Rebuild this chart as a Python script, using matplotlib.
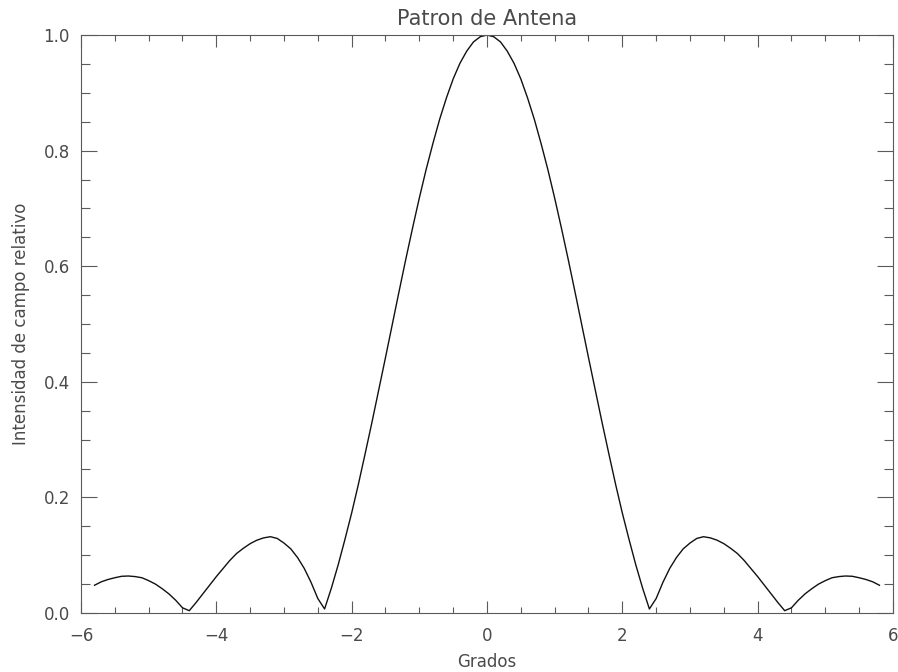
import numpy as np
import matplotlib
matplotlib.use('Agg')
import matplotlib.pyplot as plt
from matplotlib.ticker import MultipleLocator

# antenna pattern samples, angle in degrees (right half; pattern is symmetric)
grados_der = [0.0, 0.1, 0.2, 0.3, 0.4, 0.5, 0.6, 0.7, 0.8, 0.9,
              1.0, 1.1, 1.2, 1.3, 1.4, 1.5, 1.6, 1.7, 1.8, 1.9,
              2.0, 2.1, 2.2, 2.3, 2.4, 2.5, 2.6, 2.7, 2.8, 2.9,
              3.0, 3.1, 3.2, 3.3, 3.4, 3.5, 3.6, 3.7, 3.8, 3.9,
              4.0, 4.1, 4.2, 4.3, 4.4, 4.5, 4.6, 4.7, 4.8, 4.9,
              5.0, 5.1, 5.2, 5.3, 5.4, 5.5, 5.6, 5.7, 5.8]
intensidad_der = [1.000, 0.997, 0.988, 0.972, 0.951, 0.924, 0.891, 0.854, 0.812, 0.767,
                  0.718, 0.666, 0.612, 0.556, 0.499, 0.442, 0.386, 0.330, 0.276, 0.223,
                  0.173, 0.127, 0.083, 0.043, 0.007, 0.025, 0.053, 0.077, 0.096, 0.111,
                  0.121, 0.129, 0.132, 0.130, 0.126, 0.120, 0.112, 0.103, 0.091, 0.077,
                  0.063, 0.048, 0.033, 0.018, 0.004, 0.009, 0.022, 0.033, 0.042, 0.050,
                  0.056, 0.061, 0.063, 0.064, 0.0635, 0.061, 0.058, 0.054, 0.048]

grados = [-g for g in grados_der[:0:-1]] + grados_der
intensidad = intensidad_der[:0:-1] + intensidad_der

txt_color = '#4a4a4a'
axis_color = '#5a5a5a'
plt.rcParams['font.family'] = ['DejaVu Sans']

fig = plt.figure(figsize=(8.98, 6.72), dpi=100)
ax = fig.add_axes([0.0902, 0.0878, 0.9042, 0.8601])

ax.plot(grados, intensidad, color='#111111', lw=1.0)

ax.set_xlim(-6, 6)
ax.set_ylim(0, 1.0)
ax.xaxis.set_major_locator(MultipleLocator(2))
ax.xaxis.set_minor_locator(MultipleLocator(0.5))
ax.yaxis.set_major_locator(MultipleLocator(0.2))
ax.yaxis.set_minor_locator(MultipleLocator(0.05))
ax.set_yticks(np.arange(0, 1.01, 0.2))
ax.set_yticklabels(['%.1f' % v for v in np.arange(0, 1.01, 0.2)])

ax.tick_params(axis='both', which='both', direction='in', top=True, right=True,
               colors=axis_color, labelcolor=txt_color, labelsize=12, width=0.8)
ax.tick_params(axis='x', which='major', length=8.6, pad=10)
ax.tick_params(axis='x', which='minor', length=4.3)
ax.tick_params(axis='y', which='major', length=11.5, pad=8)
ax.tick_params(axis='y', which='minor', length=6.3)

for sp in ax.spines.values():
    sp.set_color(axis_color)
    sp.set_linewidth(0.8)

ax.set_title('Patron de Antena', fontsize=15, color=txt_color, pad=7)
ax.set_xlabel('Grados', fontsize=12, color=txt_color, labelpad=6)
ax.set_ylabel('Intensidad de campo relativo', fontsize=12, color=txt_color, labelpad=10)

fig.savefig('out.png', dpi=100)
